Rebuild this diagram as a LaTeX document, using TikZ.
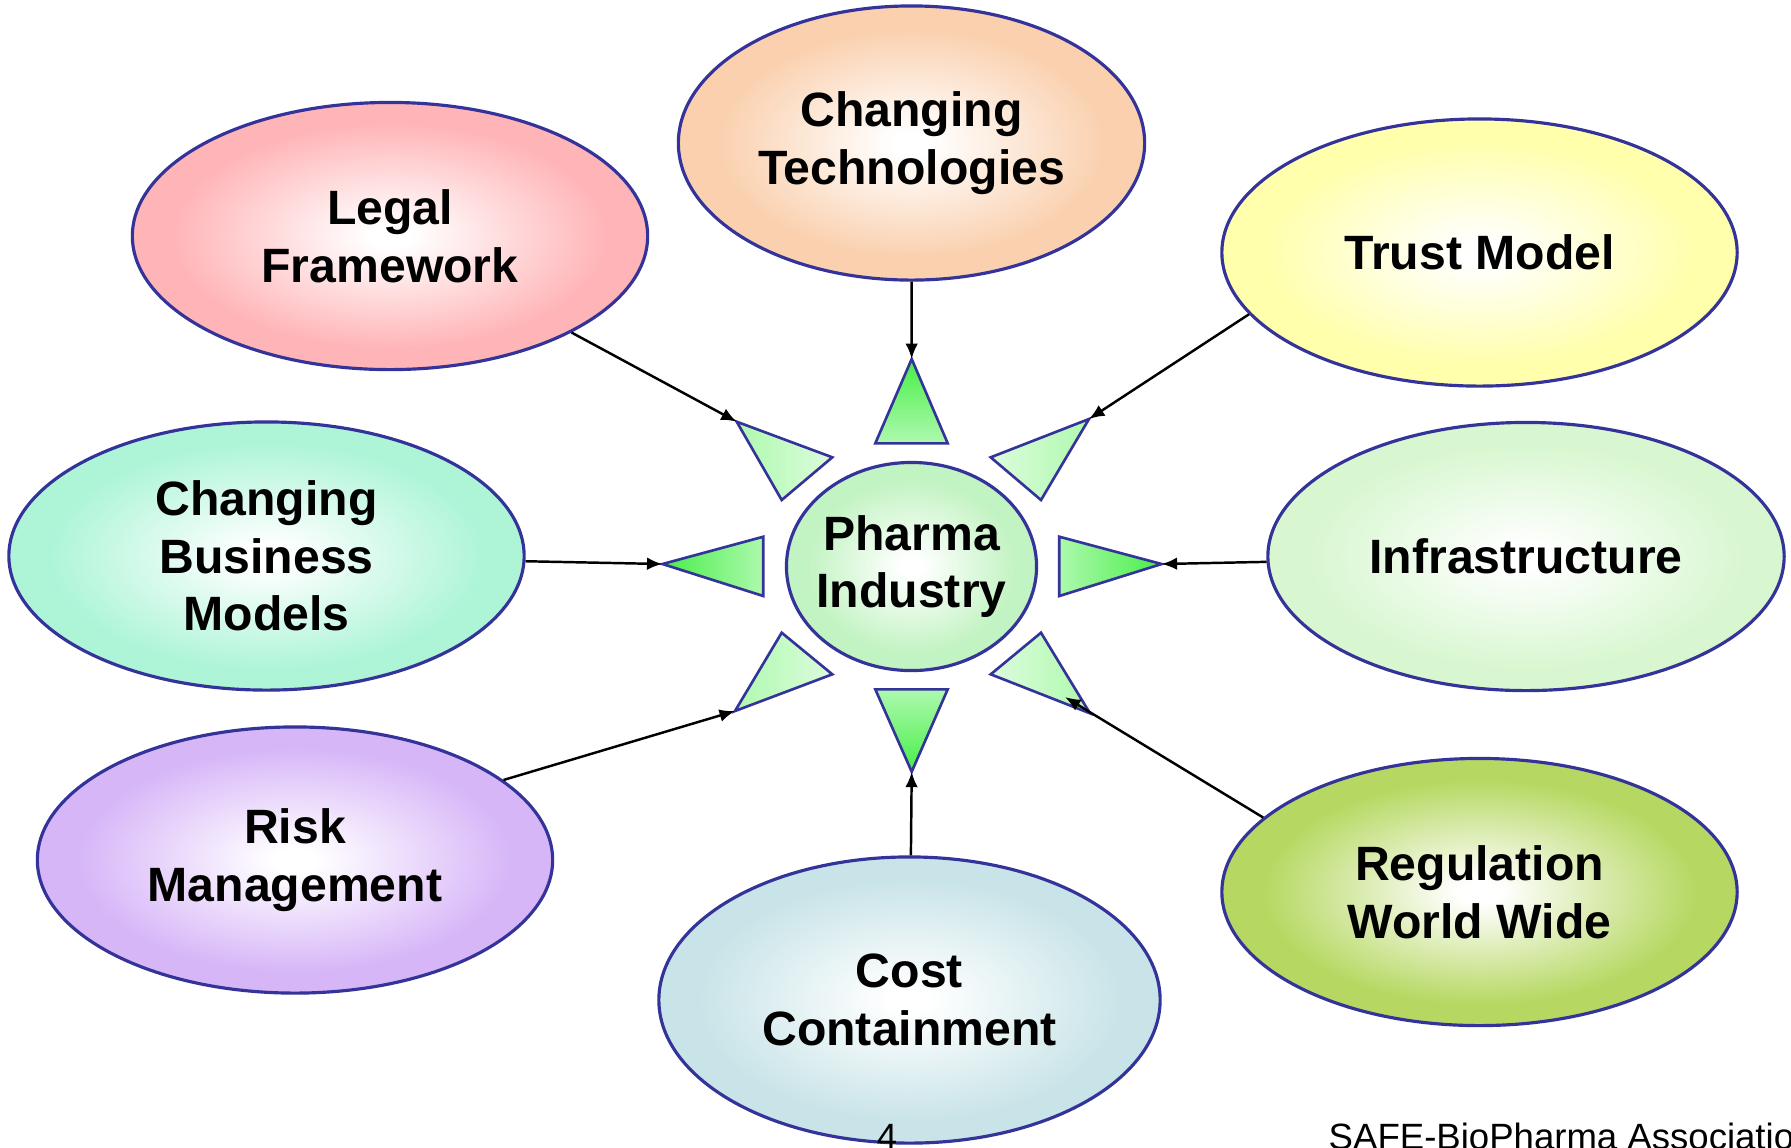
\documentclass[tikz,border=0pt]{standalone}
\usepackage{fontspec}
\setmainfont{Liberation Sans}
\usepackage{tikz}
\usetikzlibrary{shapes.geometric,arrows.meta}
\definecolor{rim}{HTML}{333399}
\definecolor{techcol}{HTML}{FAD0AE}
\definecolor{legalcol}{HTML}{FFB5B8}
\definecolor{trustcol}{HTML}{FFFFAC}
\definecolor{bizcol}{HTML}{AEF5D8}
\definecolor{infracol}{HTML}{D8F7D0}
\definecolor{riskcol}{HTML}{D7B6F8}
\definecolor{costcol}{HTML}{C9E4E8}
\definecolor{regcol}{HTML}{B6D862}
\definecolor{pharmacol}{HTML}{C2F3C2}
\definecolor{trigreen}{HTML}{48EE48}
\definecolor{trilight}{HTML}{AEF9AE}
\definecolor{tripale}{HTML}{DDFCDD}
\makeatletter
\pgfdeclareradialshading[tikz@radial@inner,tikz@radial@outer]{glow}{\pgfpointorigin}{%
  color(0bp)=(tikz@radial@inner); color(2bp)=(tikz@radial@inner);
  color(21bp)=(tikz@radial@outer); color(50bp)=(tikz@radial@outer)}
\makeatother

\begin{document}
\begin{tikzpicture}[x=0.01cm,y=-0.01cm,
    bubble/.style={ellipse,draw=rim,line width=0.9pt,inner sep=0pt,align=center,
      font=\bfseries\fontsize{13.7}{16.4}\selectfont,
      inner color=white,outer color=#1,shading=glow},
    tri/.style={draw=rim,line width=0.75pt},
    feed/.style={-{Latex[length=4.4pt,width=3.6pt]},line width=0.7pt}]
  \clip (0,0) rectangle (1791,1147);
  % apexes of the star
  \coordinate (tT)  at (911.7,359);
  \coordinate (tUL) at (736.7,421.7);
  \coordinate (tUR) at (1089,419);
  \coordinate (tL)  at (662.5,564);
  \coordinate (tR)  at (1161.6,564);
  \coordinate (tLL) at (735,711);
  \coordinate (tLR) at (1090,713.3);
  \coordinate (tB)  at (911.7,771.7);
  \coordinate (regtip) at (1065,697);
  % the eight rays round the centre
  \draw[tri,top color=trigreen,bottom color=trilight] (tT) -- (947.7,443.3) -- (875.3,443.3) -- cycle;
  \draw[tri,top color=trilight,bottom color=trigreen] (tB) -- (947.7,689.3) -- (875.3,689.3) -- cycle;
  \draw[tri,left color=trigreen,right color=trilight] (tL) -- (763.3,536.7) -- (763.3,596) -- cycle;
  \draw[tri,left color=trilight,right color=trigreen] (tR) -- (1059.3,536.7) -- (1059.3,596) -- cycle;
  \draw[tri,left color=trilight,right color=tripale] (tUL) -- (832.3,457.3) -- (781.7,500) -- cycle;
  \draw[tri,left color=tripale,right color=trilight] (tUR) -- (990.7,457.3) -- (1041,500) -- cycle;
  \draw[tri,left color=trilight,right color=tripale] (tLL) -- (781.7,632.7) -- (832.3,674.3) -- cycle;
  \draw[tri,left color=tripale,right color=trilight] (tLR) -- (1041,632.7) -- (990.7,674.3) -- cycle;
  % bubbles
  \node[bubble=pharmacol,inner xsep=-0.075cm,minimum width=2.5cm,minimum height=2.08cm] (pharma) at (911.5,566.5) {Pharma\\Industry};
  \node[bubble=techcol,minimum width=4.66cm,minimum height=2.74cm] (tech) at (911.5,143) {Changing\\Technologies};
  \node[bubble=legalcol,minimum width=5.15cm,minimum height=2.67cm] (legal) at (390,236) {Legal\\Framework};
  \node[bubble=trustcol,minimum width=5.15cm,minimum height=2.67cm] (trust) at (1479.5,252.5) {Trust Model};
  \node[bubble=bizcol,minimum width=5.15cm,minimum height=2.68cm] (biz) at (266.5,556) {Changing\\Business\\Models};
  \node[bubble=infracol,minimum width=5.16cm,minimum height=2.68cm] (infra) at (1526,556.5) {Infrastructure};
  \node[bubble=riskcol,minimum width=5.15cm,minimum height=2.66cm] (risk) at (295,860) {Risk\\Management};
  \node[bubble=costcol,minimum width=5.01cm,minimum height=2.86cm] (cost) at (909.5,1000) {Cost\\Containment};
  \node[bubble=regcol,minimum width=5.15cm,minimum height=2.67cm] (reg) at (1479.5,892) {Regulation\\World Wide};
  % arrows in
  \draw[feed] (tech) -- (tT);
  \draw[feed] (legal.332) -- (tUL);
  \draw[feed] (trust.195) -- (tUR);
  \draw[feed] (biz) -- (tL);
  \draw[feed] (infra) -- (tR);
  \draw[feed] (risk.21) -- (tLL);
  \draw[feed] (cost) -- (tB);
  \draw[feed] (reg.161) -- (regtip);
  % footer
  \node[anchor=base,inner sep=0pt,font=\fontsize{10.4}{12}\selectfont] (pagenum) at (887,1149) {4};
  \node[anchor=base west,inner sep=0pt,font=\fontsize{10.4}{12}\selectfont] (assoc) at (1328,1149) {SAFE-BioPharma Association};
\end{tikzpicture}
\end{document}
